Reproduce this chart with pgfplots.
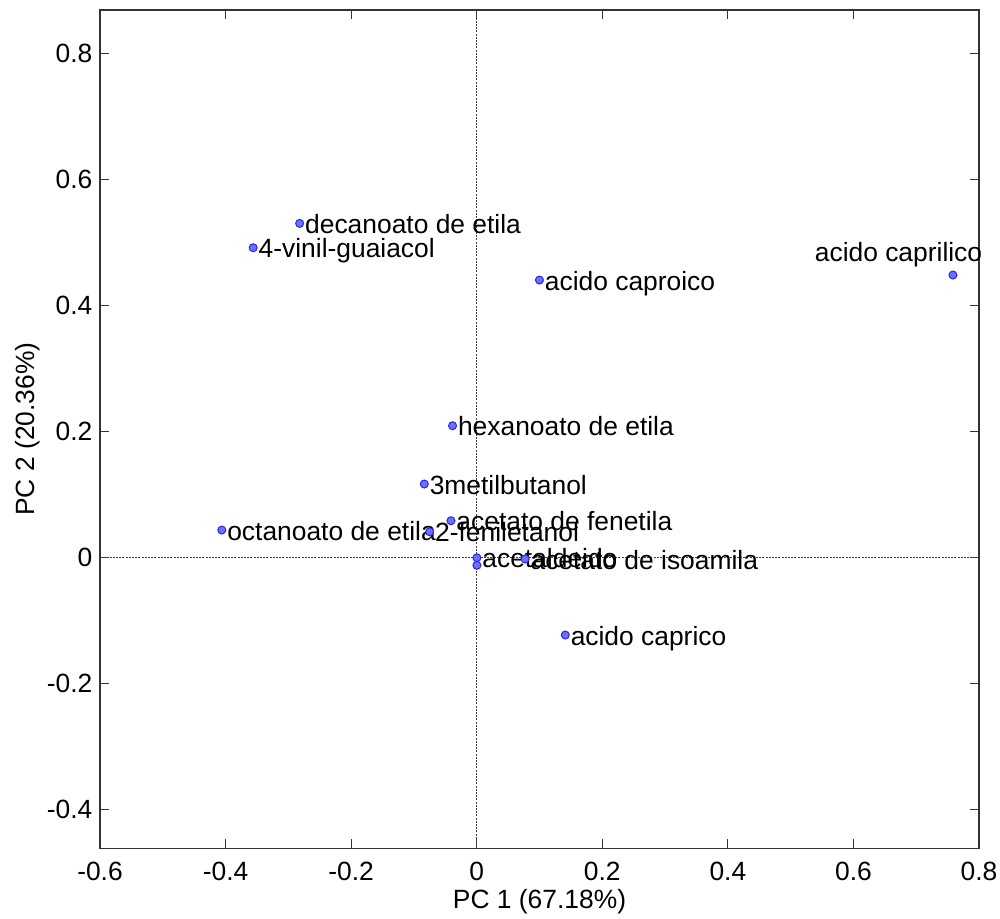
\documentclass[border=0pt]{standalone}
\usepackage{fontspec}
\setmainfont{Liberation Sans}
\usepackage{pgfplots}
\usepackage{pgfplotstable}
\pgfplotsset{compat=1.18}
\definecolor{mkfill}{RGB}{110,110,255}
\definecolor{mkdraw}{RGB}{40,40,230}
\pgfplotstableread[col sep=comma]{
x,y,label
-0.282,0.530,decanoato de etila
-0.356,0.4913,4-vinil-guaiacol
0.0999,0.440,acido caproico
-0.0385,0.2087,hexanoato de etila
-0.0835,0.1161,3metilbutanol
-0.041,0.0578,acetato de fenetila
-0.406,0.043,octanoato de etila
-0.075,0.0403,2-feniletanol
0.0003,-0.001,acetaldeido
0.0003,-0.013,{}
0.077,-0.003,acetato de isoamila
0.141,-0.1237,acido caprico
}\datamain
\pgfplotstableread[col sep=comma]{
x,y,label
0.7585,0.448,acido caprilico
}\datacap
\begin{document}
\begin{tikzpicture}[font=\fontsize{13.2}{15.8}\selectfont]
\begin{axis}[
  name=ax,
  scale only axis,
  width=439.5pt, height=419.2pt,
  xmin=-0.6, xmax=0.8,
  ymin=-0.4624, ymax=0.869,
  xtick={-0.6,-0.4,-0.2,0,0.2,0.4,0.6,0.8},
  ytick={-0.4,-0.2,0,0.2,0.4,0.6,0.8},
  xticklabels={-0.6,-0.4,-0.2,0,0.2,0.4,0.6,0.8},
  yticklabels={-0.4,-0.2,0,0.2,0.4,0.6,0.8},
  tick align=inside,
  major tick length=4.5pt,
  tick style={black!80, line width=0.5pt},
  axis line style={black!80, line width=0.6pt},
  xticklabel style={inner sep=0pt, anchor=north, yshift=-6.9pt},
  yticklabel style={inner sep=0pt, anchor=east, xshift=-3.6pt},
  xlabel={PC 1 (67.18\%)},
  ylabel={PC 2 (20.36\%)},
  every axis x label/.style={at={(rel axis cs:0.5,-0.064)}, anchor=center},
  every axis y label/.style={at={(rel axis cs:-0.0825,0.5)}, anchor=center, rotate=90},
  clip=false,
]
\addplot[black!75, line width=0.4pt, dash pattern=on 1pt off 0.6pt] coordinates {(0,-0.4624) (0,0.869)};
\addplot[black!75, line width=0.4pt, dash pattern=on 1pt off 0.6pt] coordinates {(-0.6,0) (0.8,0)};
\addplot[only marks, mark=*, mark size=2pt, mark options={fill=mkfill, draw=mkdraw, line width=0.5pt},
  nodes near coords, point meta=explicit symbolic,
  every node near coord/.style={anchor=base west, xshift=2.5pt, yshift=-5pt, inner sep=0pt, text=black}]
  table[x=x, y=y, meta=label]{\datamain};
\addplot[only marks, mark=*, mark size=2pt, mark options={fill=mkfill, draw=mkdraw, line width=0.5pt},
  nodes near coords, point meta=explicit symbolic,
  every node near coord/.style={anchor=base east, xshift=14.85pt, yshift=7pt, inner sep=0pt, text=black}]
  table[x=x, y=y, meta=label]{\datacap};
\end{axis}
\pgfresetboundingbox
\path[use as bounding box] ([xshift=-50pt, yshift=-34.85pt]ax.south west) rectangle ++(500pt,459pt);
\end{tikzpicture}
\end{document}
